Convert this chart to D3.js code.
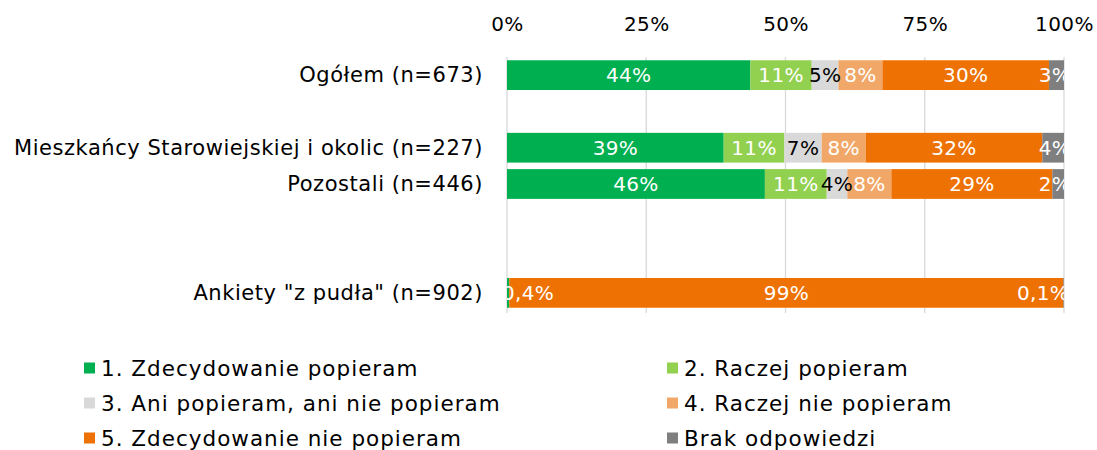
<!DOCTYPE html>
<html>
<head>
<meta charset="utf-8">
<script src="https://cdn.jsdelivr.net/npm/d3@7"></script>
<style>
  body { margin: 0; background: #fff; }
  text { font-family: "DejaVu Sans", sans-serif; }
</style>
</head>
<body>
<svg width="1097" height="450"></svg>
<script>
// rows (blank ones keep the gaps like in the original)
var categories = ["Ogółem (n=673)", "", "Mieszkańcy Starowiejskiej i okolic (n=227)", "Pozostali (n=446)", " ", "  ", "Ankiety \"z pudła\" (n=902)"];
var answers = ["1. Zdecydowanie popieram", "2. Raczej popieram", "3. Ani popieram, ani nie popieram",
               "4. Raczej nie popieram", "5. Zdecydowanie nie popieram", "Brak odpowiedzi"];
var colors = ["#00B050", "#92D050", "#D9D9D9", "#F1A767", "#EE7203", "#7F7F7F"];
var labelColors = ["#fff", "#fff", "#000", "#fff", "#fff", "#fff"];

var zdecydowaniePopieram    = [43.7, null, 38.9, 46.3, null, null, 0.4];
var raczejPopieram          = [11.0, null, 10.9, 11.1, null, null, 0];
var aniAni                  = [4.8,  null, 6.7,  3.7,  null, null, 0];
var raczejNiePopieram       = [7.9,  null, 7.9,  7.9,  null, null, 0];
var zdecydowanieNiePopieram = [29.9, null, 31.7, 28.9, null, null, 99.5];
var brakOdpowiedzi          = [2.7,  null, 3.9,  2.1,  null, null, 0.1];

var labels = [
  ["44%", "11%", "5%", "8%", "30%", "3%"],
  null,
  ["39%", "11%", "7%", "8%", "32%", "4%"],
  ["46%", "11%", "4%", "8%", "29%", "2%"],
  null, null,
  ["0,4%", "", "", "", "99%", "0,1%"]
];
var ticks = [0, 25, 50, 75, 100];

var series = [zdecydowaniePopieram, raczejPopieram, aniAni, raczejNiePopieram, zdecydowanieNiePopieram, brakOdpowiedzi];

var svg = d3.select("svg"),
    margin = {top: 57, left: 507, right: 33},
    width = 1097 - margin.left - margin.right,
    height = 254;

var x = d3.scaleLinear().domain([0, 100]).range([0, width]);
var y = d3.scaleBand().domain(categories).range([0, height]).paddingInner(0.18).paddingOuter(0.09);

var g = svg.append("g").attr("transform", "translate(" + margin.left + "," + margin.top + ")");

// vertical gridlines
g.selectAll(".grid").data(ticks).enter().append("line")
    .attr("x1", function(d) { return x(d); }).attr("x2", function(d) { return x(d); })
    .attr("y1", 0).attr("y2", height + 2)
    .style("stroke", "#d9d9d9").style("stroke-width", 1.3);

// top axis
var axis = g.append("g")
    .attr("transform", "translate(0,-23)")
    .call(d3.axisTop(x).tickValues(ticks).tickSize(0).tickFormat(function(d) { return d + "%"; }));
axis.select(".domain").remove();
axis.selectAll("text").style("font-size", "20px").style("letter-spacing", "0.4px").style("fill", "#000");

// category labels
svg.append("g").selectAll("text").data(categories.filter(function(c) { return c.trim() != ""; }))
  .enter().append("text")
    .attr("x", 483)
    .attr("y", function(d) { return margin.top + y(d) + y.bandwidth() / 2; })
    .attr("dy", "0.35em")
    .attr("text-anchor", "end")
    .style("font-size", "21px")
    .style("letter-spacing", "0.55px")
    .style("fill", "#000")
    .text(function(d) { return d; });

// stacked segments
var segs = [];
categories.forEach(function(c, i) {
  if (series[0][i] == null) return;
  var acc = 0;
  series.forEach(function(s, k) {
    segs.push({cat: c, row: i, k: k, x0: acc, x1: acc + s[i]});
    acc += s[i];
  });
});

g.append("defs").append("clipPath").attr("id", "clip")
  .append("rect").attr("width", width).attr("height", height);

g.selectAll(".seg").data(segs.filter(function(d) { return d.x1 > d.x0; })).enter().append("rect")
    .attr("x", function(d) { return x(d.x0); })
    .attr("width", function(d) { return x(d.x1) - x(d.x0); })
    .attr("y", function(d) { return y(d.cat); })
    .attr("height", y.bandwidth())
    .style("fill", function(d) { return colors[d.k]; });

var lab = g.append("g").attr("clip-path", "url(#clip)");
lab.selectAll("text").data(segs.filter(function(d) { return labels[d.row][d.k] != ""; })).enter().append("text")
    .attr("x", function(d) {
      var cx = x((d.x0 + d.x1) / 2), half = labels[d.row][d.k].length * 6;
      if (cx - half < 0) cx = half - 3;
      if (cx + half > width) cx = width - half + 3;
      return cx;
    })
    .attr("y", function(d) { return y(d.cat) + y.bandwidth() / 2; })
    .attr("dy", "0.36em")
    .attr("text-anchor", "middle")
    .style("font-size", "20px")
    .style("letter-spacing", "0.3px")
    .style("fill", function(d) { return labelColors[d.k]; })
    .text(function(d) { return labels[d.row][d.k]; });

// legend
var legend = svg.append("g").selectAll("g").data(answers).enter().append("g")
    .attr("transform", function(d, i) {
      return "translate(" + (i % 2 ? 667 : 84) + "," + (368 + Math.floor(i / 2) * 35) + ")";
    });
legend.append("rect").attr("x", 0).attr("y", -5.5).attr("width", 11).attr("height", 11)
    .style("fill", function(d, i) { return colors[i]; });
legend.append("text").attr("x", 17).attr("dy", "0.35em")
    .style("font-size", "21.5px").style("letter-spacing", "1px").style("fill", "#000")
    .text(function(d) { return d; });
</script>
</body>
</html>
